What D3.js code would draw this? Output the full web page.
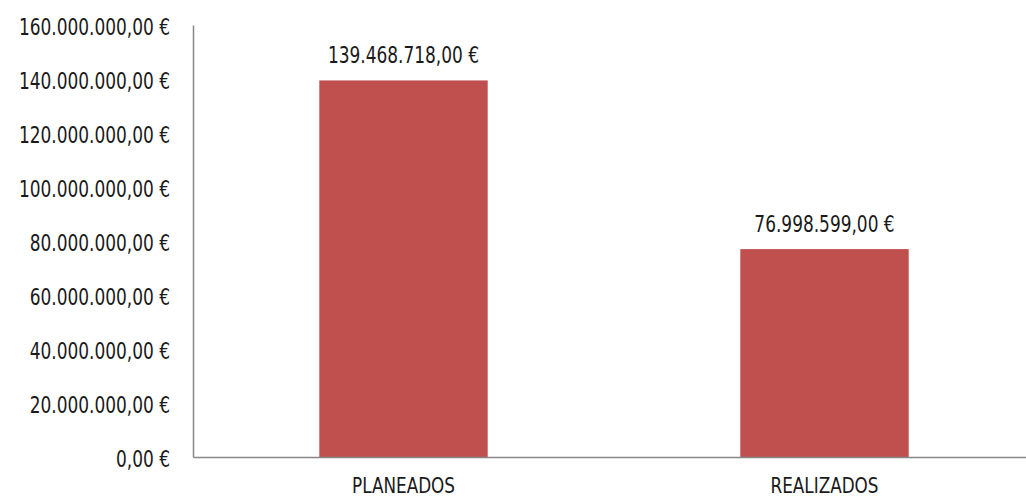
<!DOCTYPE html>
<html lang="es">
<head>
<meta charset="utf-8">
<title>Planeados vs Realizados</title>
<script src="https://d3js.org/d3.v7.min.js"></script>
<style>
  body { margin: 0; background: #fff; }
  svg text { font-family: "Liberation Sans Narrow", "DejaVu Sans", sans-serif; font-stretch: condensed; fill: #1a1a1a; }
</style>
</head>
<body>
<div id="chart"></div>
<script>
var categories = ["PLANEADOS", "REALIZADOS"];
var values = [139468718, 76998599];
var yTicks = [0, 20000000, 40000000, 60000000, 80000000, 100000000, 120000000, 140000000, 160000000];

var W = 1026, H = 498;
var plotLeft = 193, plotRight = 1035, plotTop = 25, plotBottom = 457;

var svg = d3.select("#chart").append("svg")
  .attr("width", W).attr("height", H);

var es = d3.formatLocale({decimal: ",", thousands: ".", grouping: [3], currency: ["", " €"]});
var fmt = es.format("$,.2f");

// the original font is narrower than anything installed, squeeze text a bit
function squeeze(sel, k) {
  sel.each(function() {
    var len = this.getComputedTextLength();
    d3.select(this).attr("textLength", len * k).attr("lengthAdjust", "spacingAndGlyphs");
  });
}

var x = d3.scaleBand()
  .domain(categories)
  .range([plotLeft, plotRight])
  .paddingInner(0.6)
  .paddingOuter(0.3);

var y = d3.scaleLinear()
  .domain([0, 160000000])
  .range([plotBottom, plotTop]);

// y axis labels + line
var yAxis = svg.append("g")
  .attr("transform", "translate(" + plotLeft + ",0)")
  .call(d3.axisLeft(y).tickValues(yTicks).tickFormat(fmt).tickSize(0).tickPadding(23));
yAxis.attr("font-family", null);
yAxis.select(".domain").attr("stroke", "#878787").attr("stroke-width", 1.5);
yAxis.selectAll("text").attr("font-size", "23px").attr("fill", "#1a1a1a").attr("dy", "0.42em")
  .call(squeeze, 0.82);

// bars
svg.append("g").selectAll("rect")
  .data(values)
  .enter().append("rect")
  .attr("x", function(d, i) { return x(categories[i]); })
  .attr("y", function(d) { return y(d); })
  .attr("width", x.bandwidth())
  .attr("height", function(d) { return y(0) - y(d); })
  .attr("fill", "#C0504D");

// value labels
svg.append("g").selectAll("text")
  .data(values)
  .enter().append("text")
  .attr("x", function(d, i) { return x(categories[i]) + x.bandwidth() / 2; })
  .attr("y", function(d) { return y(d) - 25; })
  .attr("text-anchor", "middle")
  .attr("dominant-baseline", "central")
  .attr("font-size", "23px")
  .text(function(d) { return fmt(d); })
  .call(squeeze, 0.82);

// x axis
var xAxis = svg.append("g")
  .attr("transform", "translate(0," + plotBottom + ")")
  .call(d3.axisBottom(x).tickSize(0).tickPadding(20));
xAxis.attr("font-family", null);
xAxis.select(".domain").attr("stroke", "#878787").attr("stroke-width", 1.5);
xAxis.selectAll("text").attr("font-size", "22px").attr("fill", "#1a1a1a")
  .call(squeeze, 0.85);
</script>
</body>
</html>
